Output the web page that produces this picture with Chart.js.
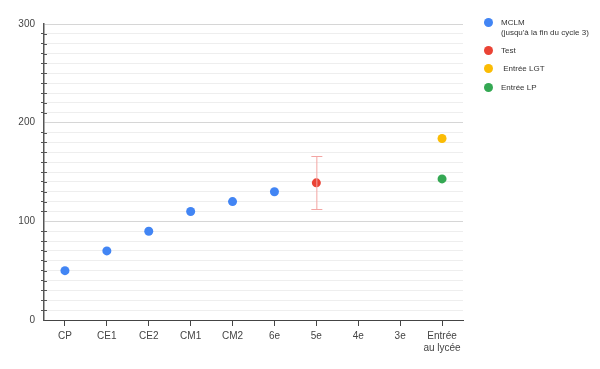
<!DOCTYPE html>
<html><head><meta charset="utf-8">
<script src="https://cdn.jsdelivr.net/npm/chart.js@4.4.1/dist/chart.umd.min.js"></script>
<style>
html,body{margin:0;padding:0;background:#fff;}
#wrap{position:relative;width:600px;height:369px;}
#legend{position:absolute;left:484px;top:17px;font-family:"Liberation Sans",Arial,sans-serif;font-size:8px;color:#333;}
.li{position:absolute;left:0;white-space:nowrap;}
.dot{position:absolute;left:0;width:9px;height:9px;border-radius:50%;}
.tx{position:absolute;left:17px;line-height:10px;}
</style></head>
<body><div id="wrap"><canvas id="c" width="600" height="369"></canvas><div id="legend"></div></div>
<script>
const categories = ["CP","CE1","CE2","CM1","CM2","6e","5e","4e","3e",["Entrée","au lycée"]];
const mclm = [50,70,90,110,120,130,null,null,null,null];
const test = [null,null,null,null,null,null,139,null,null,null];
const testLow = [null,null,null,null,null,null,112,null,null,null];
const testHigh = [null,null,null,null,null,null,166,null,null,null];
const lgt = [null,null,null,null,null,null,null,null,null,184];
const lp = [null,null,null,null,null,null,null,null,null,143];
const legendItems = [
  {text:["MCLM","(jusqu'à la fin du cycle 3)"], color:"#4285F4"},
  {text:["Test"], color:"#EA4335"},
  {text:[" Entrée LGT"], color:"#FBBC04"},
  {text:["Entrée LP"], color:"#34A853"}
];

const errorBars = {
  id:'errorBars',
  afterDatasetsDraw(chart){
    const ctx = chart.ctx, x = chart.scales.x, y = chart.scales.y;
    ctx.save();
    ctx.strokeStyle = '#f3a5a3';
    ctx.lineWidth = 1;
    testLow.forEach((lo,i)=>{
      if(lo===null) return;
      const px = x.getPixelForValue(i);
      const y1 = y.getPixelForValue(lo), y2 = y.getPixelForValue(testHigh[i]);
      ctx.beginPath();
      ctx.moveTo(px+0.5,y1); ctx.lineTo(px+0.5,y2);
      ctx.moveTo(px-5,Math.round(y1)+0.5); ctx.lineTo(px+6,Math.round(y1)+0.5);
      ctx.moveTo(px-5,Math.round(y2)+0.5); ctx.lineTo(px+6,Math.round(y2)+0.5);
      ctx.stroke();
    });
    ctx.restore();
  }
};
const innerTicks = {
  id:'innerTicks',
  afterDraw(chart){
    const ctx = chart.ctx, y = chart.scales.y, left = chart.chartArea.left;
    ctx.save();
    ctx.strokeStyle = '#555';
    ctx.lineWidth = 1;
    y.ticks.forEach(t=>{
      if(t.value % 100 === 0) return;
      const py = Math.round(y.getPixelForValue(t.value))+0.5;
      ctx.beginPath(); ctx.moveTo(left, py); ctx.lineTo(left+3, py); ctx.stroke();
    });
    ctx.restore();
  }
};

const ds = (label,data,color)=>({label,data,backgroundColor:color,borderColor:color,pointRadius:4.5,pointHoverRadius:4.5,showLine:false,pointBorderWidth:0});

new Chart(document.getElementById('c'),{
  type:'line',
  data:{labels:categories,datasets:[
    ds('MCLM',mclm,'#4285F4'),
    ds('Test',test,'#EA4335'),
    ds('Entrée LGT',lgt,'#FBBC04'),
    ds('Entrée LP',lp,'#34A853')
  ]},
  options:{
    responsive:false,animation:false,
    layout:{padding:{left:0,right:137,top:24,bottom:0}},
    plugins:{legend:{display:false},tooltip:{enabled:false}},
    scales:{
      x:{
        offset:true,
        grid:{offset:false,drawOnChartArea:false,tickLength:6,tickColor:'#444',tickWidth:1},
        border:{color:'#444',width:1},
        ticks:{color:'#444',font:{family:'"Liberation Sans", Arial, sans-serif',size:10},padding:4,maxRotation:0,autoSkip:false},
        afterFit(s){s.height=49;}
      },
      y:{
        min:0,max:300,
        ticks:{stepSize:10,autoSkip:false,color:'#444',font:{family:'"Liberation Sans", Arial, sans-serif',size:10},padding:6,
          callback:v=> (v%100===0? String(v):'')},
        grid:{
          color:c=> (c.tick && c.tick.value%100===0 ? '#d6d6d6' : '#eeeeee'),
          tickColor:c=> (c.tick && c.tick.value%100===0 ? 'rgba(0,0,0,0)' : '#555'),
          tickLength:3
        },
        border:{color:'#555',width:1.5},
        afterFit(s){s.width=44;}
      }
    }
  },
  plugins:[errorBars,innerTicks]
});

const lg = document.getElementById('legend');
const tops=[0,28,46,65];
legendItems.forEach((it,i)=>{
  const d=document.createElement('div'); d.className='li'; d.style.top=tops[i]+'px';
  d.innerHTML='<div class="dot" style="background:'+it.color+';top:1px"></div><div class="tx" style="top:1px">'+it.text.map(s=>s.replace(/ /g,'&nbsp;')).join('<br>')+'</div>';
  lg.appendChild(d);
});
</script></body></html>
